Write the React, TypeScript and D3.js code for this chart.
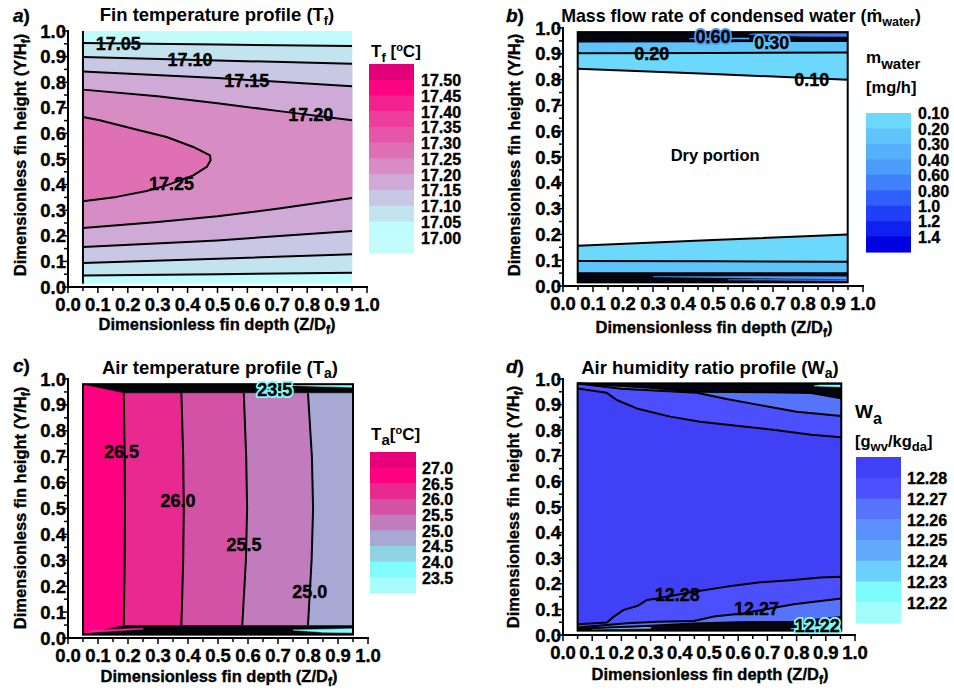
import React from "react";
import * as d3 from "d3";

type Pt = [number, number];
type Label = { text: string; at: Pt; halo?: number };

const FONT = "'Liberation Sans', Arial, Helvetica, sans-serif";
const INK = "#000";

// ---------- (a) fin temperature, Tf [°C] ----------
const finTempTicks = [17.5, 17.45, 17.4, 17.35, 17.3, 17.25, 17.2, 17.15, 17.1, 17.05, 17.0];
const finTempColors = [
  "#e2007a", "#fe0482", "#f42290", "#ec3c9c", "#e656a8", "#e070b4",
  "#d88cc4", "#d0aad6", "#c8c8e4", "#c2e4ee", "#c0fcfc", "#c4fcfc",
];
const finTempZ: Pt = [0.05, 0.95];
const finTempY: Pt = [0.013, 1.0];
const finTempBaseFloor = 17.0;
const finTempLevels = [17.05, 17.1, 17.15, 17.2];
const finTempLower: Pt[][] = [
  [[0.05, 0.045], [0.5, 0.05], [0.95, 0.056]],
  [[0.05, 0.094], [0.5, 0.11], [0.95, 0.128]],
  [[0.05, 0.156], [0.5, 0.182], [0.95, 0.219]],
  [[0.05, 0.23], [0.3, 0.254], [0.5, 0.276], [0.7, 0.306], [0.95, 0.348]],
];
const finTempUpper: Pt[][] = [
  [[0.05, 0.953], [0.5, 0.947], [0.95, 0.941]],
  [[0.05, 0.898], [0.5, 0.885], [0.95, 0.872]],
  [[0.05, 0.842], [0.5, 0.816], [0.95, 0.784]],
  [[0.05, 0.771], [0.3, 0.745], [0.5, 0.718], [0.7, 0.688], [0.95, 0.651]],
];
const finTempCoreLevel = 17.25;
const finTempCore: Pt[] = [
  [0.05, 0.664], [0.106, 0.651], [0.218, 0.618], [0.33, 0.586], [0.419, 0.547],
  [0.475, 0.514], [0.477, 0.495], [0.464, 0.469], [0.419, 0.436], [0.33, 0.397],
  [0.263, 0.375], [0.162, 0.352], [0.05, 0.335],
];
const finTempLabels: Label[] = [
  { text: "17.05", at: [0.168, 0.95] },
  { text: "17.10", at: [0.408, 0.888] },
  { text: "17.15", at: [0.598, 0.807] },
  { text: "17.20", at: [0.812, 0.673] },
  { text: "17.25", at: [0.346, 0.404] },
];

// ---------- (b) condensed water mass flow rate [mg/h] ----------
const waterTicks = [0.1, 0.2, 0.3, 0.4, 0.6, 0.8, 1.0, 1.2, 1.4];
const waterTickText = ["0.10", "0.20", "0.30", "0.40", "0.60", "0.80", "1.0", "1.2", "1.4"];
const waterColors = [
  "#6cd8fc", "#60c4fc", "#56b0fc", "#4c9cfc", "#4080fc",
  "#3060fc", "#2040f8", "#1020f0", "#0000e0",
];
const waterZ: Pt = [0.049, 0.949];
const waterY: Pt = [0.014, 0.984];
const waterLevels = [0.3, 0.2, 0.1];
const waterLower: Pt[][] = [
  [[0.049, 0.049], [0.5, 0.049], [0.949, 0.049]],
  [[0.049, 0.097], [0.5, 0.096], [0.949, 0.094]],
  [[0.049, 0.156], [0.5, 0.178], [0.949, 0.2]],
];
const waterUpper: Pt[][] = [
  [[0.049, 0.948], [0.5, 0.949], [0.949, 0.95]],
  [[0.049, 0.902], [0.5, 0.903], [0.949, 0.905]],
  [[0.049, 0.842], [0.5, 0.822], [0.949, 0.799]],
];
const waterStreaks: { floor: number; pts: Pt[] }[] = [
  { floor: 0.6, pts: [[0.62, 0.975], [0.8, 0.968], [0.949, 0.967], [0.949, 0.979], [0.64, 0.979]] },
  { floor: 0.3, pts: [[0.42, 0.958], [0.62, 0.957], [0.62, 0.961], [0.45, 0.961]] },
  { floor: 0.4, pts: [[0.3, 0.036], [0.7, 0.03], [0.949, 0.026], [0.949, 0.036], [0.6, 0.037]] },
  { floor: 0.6, pts: [[0.55, 0.024], [0.949, 0.02], [0.949, 0.023], [0.7, 0.025]] },
];
const waterLabels: Label[] = [
  { text: "0.60", at: [0.5, 0.966], halo: 0.4 },
  { text: "0.30", at: [0.696, 0.945], halo: 0.2 },
  { text: "0.20", at: [0.296, 0.9] },
  { text: "0.10", at: [0.829, 0.801] },
];

// ---------- (c) air temperature, Ta [°C] ----------
const airTempTicks = [27.0, 26.5, 26.0, 25.5, 25.0, 24.5, 24.0, 23.5];
const airTempColors = [
  "#e8007a", "#ff0080", "#e82a90", "#d452a6", "#c07cbc",
  "#a8a8d4", "#90d4e4", "#80fcfc", "#a8fcfc",
];
const airTempZ: Pt = [0.05, 0.95];
const airTempY: Pt = [0.013, 0.98];
// isolines 26.5, 26.0, 25.5, 25.0, each listed bottom to top
const airTempIsolines: Pt[][] = [
  [[0.186, 0.05], [0.189, 0.3], [0.19, 0.5], [0.189, 0.7], [0.186, 0.945]],
  [[0.378, 0.05], [0.384, 0.3], [0.386, 0.5], [0.384, 0.7], [0.378, 0.945]],
  [[0.581, 0.05], [0.593, 0.3], [0.597, 0.5], [0.594, 0.7], [0.586, 0.945]],
  [[0.8, 0.05], [0.812, 0.3], [0.817, 0.5], [0.813, 0.7], [0.8, 0.945]],
];
const airTempInletEdge: Pt[] = [[0.05, 0.015], [0.05, 0.978]];
const airTempOutletEdge: Pt[] = [[0.95, 0.05], [0.95, 0.945]];
const airTempBandFloors = [26.5, 26.0, 25.5, 25.0, 24.5];
const airTempStreaks: { floor: number; pts: Pt[] }[] = [
  { floor: 23.5, pts: [[0.7, 0.977], [0.85, 0.971], [0.95, 0.968], [0.95, 0.979], [0.7, 0.979]] },
  { floor: 23.5, pts: [[0.75, 0.031], [0.95, 0.036], [0.95, 0.02], [0.85, 0.022]] },
  { floor: 26.0, pts: [[0.06, 0.02], [0.25, 0.034], [0.25, 0.038], [0.08, 0.03]] },
];
const airTempLabels: Label[] = [
  { text: "26.5", at: [0.178, 0.722] },
  { text: "26.0", at: [0.367, 0.53] },
  { text: "25.5", at: [0.587, 0.36] },
  { text: "25.0", at: [0.806, 0.18] },
  { text: "23.5", at: [0.689, 0.96], halo: 23.5 },
];

// ---------- (d) air humidity ratio, Wa [g_wv/kg_da] ----------
const humidityTicks = [12.28, 12.27, 12.26, 12.25, 12.24, 12.23, 12.22];
const humidityColors = [
  "#4040f6", "#4c50fc", "#5674fa", "#5c90fc", "#64aafc", "#6cd0fc", "#7cfcfc", "#a2fcfc",
];
const humidityZ: Pt = [0.05, 0.953];
const humidityY: Pt = [0.017, 0.983];
const humidityLevels = [12.26, 12.27, 12.28];
const humidityLower: Pt[][] = [
  [[0.05, 0.024], [0.3, 0.036], [0.45, 0.045], [0.6, 0.05], [0.8, 0.052], [0.953, 0.07]],
  [[0.05, 0.029], [0.219, 0.046], [0.322, 0.052], [0.448, 0.055], [0.517, 0.072], [0.62, 0.085], [0.79, 0.12], [0.953, 0.143]],
  [[0.05, 0.042], [0.151, 0.049], [0.174, 0.072], [0.208, 0.098], [0.254, 0.113], [0.288, 0.137], [0.322, 0.143],
    [0.448, 0.169], [0.562, 0.189], [0.676, 0.206], [0.79, 0.215], [0.882, 0.225], [0.953, 0.228]],
];
const humidityUpper: Pt[][] = [
  [[0.05, 0.983], [0.3, 0.966], [0.458, 0.95], [0.7, 0.948], [0.85, 0.945], [0.953, 0.925]],
  [[0.05, 0.982], [0.2, 0.962], [0.458, 0.946], [0.56, 0.922], [0.675, 0.898], [0.8, 0.872], [0.953, 0.855]],
  [[0.05, 0.963], [0.15, 0.946], [0.184, 0.918], [0.253, 0.885], [0.367, 0.853], [0.47, 0.833],
    [0.618, 0.814], [0.733, 0.8], [0.85, 0.782], [0.953, 0.772]],
];
const humidityStreaks: { floor: number; pts: Pt[] }[] = [
  { floor: 12.22, pts: [[0.86, 0.973], [0.953, 0.969], [0.953, 0.977], [0.88, 0.977]] },
  { floor: 12.22, pts: [[0.78, 0.024], [0.953, 0.02], [0.953, 0.05], [0.9, 0.036]] },
  { floor: 12.23, pts: [[0.1, 0.022], [0.3, 0.026], [0.3, 0.03], [0.12, 0.026]] },
];
const humidityLabels: Label[] = [
  { text: "12.28", at: [0.391, 0.159] },
  { text: "12.27", at: [0.663, 0.104] },
  { text: "12.22", at: [0.871, 0.039], halo: 12.22 },
];

const axisTicks = d3.range(0, 21).map((i) => i / 20);
const fmt = d3.format(".1f");

function colorAt(ticks: number[], colors: string[], floor: number): string {
  const i = ticks.findIndex((t) => Math.abs(t - floor) < 1e-9);
  return i < 0 ? "#ffffff" : colors[i];
}

function ring(lower: Pt[], upper: Pt[]): Pt[] {
  return [...lower, ...upper.slice().reverse()];
}

type Scale = d3.ScaleLinear<number, number>;

function makeScales(xr: Pt, yr: Pt): [Scale, Scale] {
  return [d3.scaleLinear().domain([0, 1]).range(xr), d3.scaleLinear().domain([0, 1]).range(yr)];
}

const heavy = { stroke: INK, strokeWidth: 0.35, paintOrder: "stroke" } as const;

function Axes({ x, y }: { x: Scale; y: Scale }) {
  const y0 = y(0);
  const x0 = x(0);
  return (
    <g fontFamily={FONT} fontWeight="bold" fontSize={18.5} fill={INK}>
      <line x1={x(0) - 1} x2={x(1) + 1} y1={y0} y2={y0} stroke={INK} strokeWidth={2} />
      <line x1={x0} x2={x0} y1={y(0) + 1} y2={y(1) - 1} stroke={INK} strokeWidth={2} />
      {axisTicks.map((t, i) => {
        const major = i % 2 === 0;
        const len = major ? 6 : 4;
        return (
          <g key={i}>
            <line x1={x(t)} x2={x(t)} y1={y0} y2={y0 + len} stroke={INK} strokeWidth={1.5} />
            <line x1={x0 - len} x2={x0} y1={y(t)} y2={y(t)} stroke={INK} strokeWidth={1.5} />
            {major && (
              <text x={x(t)} y={y0 + 24} textAnchor="middle" {...heavy}>{fmt(t)}</text>
            )}
            {major && (
              <text x={x0 - 2} y={y(t) + 6.5} textAnchor="end" {...heavy}>{fmt(t)}</text>
            )}
          </g>
        );
      })}
    </g>
  );
}

function Fills({ x, y, items }: { x: Scale; y: Scale; items: { pts: Pt[]; color: string }[] }) {
  const line = d3.line<Pt>().x((d) => x(d[0])).y((d) => y(d[1]));
  return (
    <g>
      {items.map((f, i) => (
        <path key={i} d={line(f.pts) + "Z"} fill={f.color} stroke={f.color} strokeWidth={0.5} />
      ))}
    </g>
  );
}

function Isolines({ x, y, lines }: { x: Scale; y: Scale; lines: Pt[][] }) {
  const line = d3.line<Pt>().x((d) => x(d[0])).y((d) => y(d[1]));
  return (
    <g fill="none" stroke={INK} strokeWidth={2} strokeLinejoin="round">
      {lines.map((l, i) => (
        <path key={i} d={line(l) ?? ""} />
      ))}
    </g>
  );
}

function Labels(props: { x: Scale; y: Scale; labels: Label[]; ticks: number[]; colors: string[] }) {
  const { x, y, labels, ticks, colors } = props;
  return (
    <g fontFamily={FONT} fontWeight="bold" fontSize={18} textAnchor="middle">
      {labels.map((l, i) => (
        <g key={i}>
          {l.halo !== undefined && (
            <text x={x(l.at[0])} y={y(l.at[1]) + 6.5} fill="none"
              stroke={colorAt(ticks, colors, l.halo)} strokeWidth={4} strokeLinejoin="round">
              {l.text}
            </text>
          )}
          <text x={x(l.at[0])} y={y(l.at[1]) + 6.5} fill={INK} {...heavy}>{l.text}</text>
        </g>
      ))}
    </g>
  );
}

function Rect({ x, y, z, h, fill }: { x: Scale; y: Scale; z: Pt; h: Pt; fill: string }) {
  return (
    <rect x={x(z[0])} y={y(h[1])} width={x(z[1]) - x(z[0])} height={y(h[0]) - y(h[1])} fill={fill} />
  );
}

function Frame({ x, y, z, h }: { x: Scale; y: Scale; z: Pt; h: Pt }) {
  return (
    <rect x={x(z[0])} y={y(h[1])} width={x(z[1]) - x(z[0])} height={y(h[0]) - y(h[1])}
      fill="none" stroke={INK} strokeWidth={2} />
  );
}

function Legend(props: {
  x: number; top: number; width: number; bandH: number;
  colors: string[]; labels: string[]; labelX: number; onEdge: boolean;
}) {
  const { x, top, width, bandH, colors, labels, labelX, onEdge } = props;
  return (
    <g fontFamily={FONT} fontWeight="bold" fontSize={16} fill={INK}>
      {colors.map((c, i) => (
        <rect key={i} x={x} y={top + i * bandH} width={width} height={bandH + 0.6} fill={c} />
      ))}
      {labels.map((t, i) => (
        <text key={i} x={labelX} y={top + (onEdge ? i : i + 1) * bandH + 6.3} {...heavy}>{t}</text>
      ))}
    </g>
  );
}

// text with a subscript, followed by more text on the main baseline
function SubText({ base, sub, after, size = 12.5, drop = 4 }: {
  base: string; sub: string; after: string; size?: number; drop?: number;
}) {
  return (
    <>
      {base}
      <tspan dy={drop} fontSize={size}>{sub}</tspan>
      <tspan dy={-drop}>{after}</tspan>
    </>
  );
}

function PanelText(props: { letter: string; lx: number; ly: number; yTitle: Pt; xTitle: Pt }) {
  const { letter, lx, ly, yTitle, xTitle } = props;
  return (
    <g fontFamily={FONT} fontWeight="bold" fill={INK} {...heavy}>
      <text x={lx} y={ly} fontSize={19}>
        <tspan fontStyle="italic">{letter}</tspan>
        <tspan>)</tspan>
      </text>
      <text
        transform={`translate(${yTitle[0]},${yTitle[1]}) rotate(-90)`}
        textAnchor="middle"
        fontSize={16.5}
      >
        <SubText base="Dimensionless fin height (Y/H" sub="f" after=")" size={12} />
      </text>
      <text x={xTitle[0]} y={xTitle[1]} textAnchor="middle" fontSize={16.5}>
        <SubText base="Dimensionless fin depth (Z/D" sub="f" after=")" size={12} />
      </text>
    </g>
  );
}

const titleStyle = { fontFamily: FONT, fontWeight: "bold", fontSize: 18.5, fill: INK } as const;

function FinTempPanel() {
  const [x, y] = makeScales([68, 367], [287, 31]);
  const fills = [
    ...finTempLevels.map((lv, i) => ({
      pts: ring(finTempLower[i], finTempUpper[i]),
      color: colorAt(finTempTicks, finTempColors, lv),
    })),
    { pts: finTempCore, color: colorAt(finTempTicks, finTempColors, finTempCoreLevel) },
  ];
  return (
    <g>
      <Rect x={x} y={y} z={finTempZ} h={finTempY} fill={colorAt(finTempTicks, finTempColors, finTempBaseFloor)} />
      <Fills x={x} y={y} items={fills} />
      <Isolines x={x} y={y} lines={[...finTempLower, ...finTempUpper, finTempCore]} />
      <line x1={x(finTempZ[0])} x2={x(finTempZ[0])} y1={y(finTempY[0])} y2={y(finTempY[1])} stroke={INK} strokeWidth={2} />
      <Labels x={x} y={y} labels={finTempLabels} ticks={finTempTicks} colors={finTempColors} />
      <Axes x={x} y={y} />
      <PanelText letter="a" lx={13} ly={22} yTitle={[26, 155]} xTitle={[217, 330]} />
      <text x={217} y={21} textAnchor="middle" {...titleStyle}>
        <SubText base="Fin temperature profile (T" sub="f" after=")" />
      </text>
      <text x={371} y={57} {...titleStyle} fontSize={17}>
        T<tspan dy={5} fontSize={13}>f</tspan>
        <tspan dy={-5}> [</tspan>
        <tspan dy={-6} fontSize={11}>o</tspan>
        <tspan dy={6}>C]</tspan>
      </text>
      <Legend x={369} top={64} width={45} bandH={15.75} colors={finTempColors}
        labels={finTempTicks.map((t) => t.toFixed(2))} labelX={421} onEdge={false} />
    </g>
  );
}

function WaterPanel() {
  const [x, y] = makeScales([563, 863], [286, 28]);
  const fills = waterLevels.map((lv, i) => {
    const k = waterTicks.indexOf(lv) - 1;
    return { pts: ring(waterLower[i], waterUpper[i]), color: k < 0 ? "#ffffff" : waterColors[k] };
  });
  const streaks = waterStreaks.map((s) => ({ pts: s.pts, color: colorAt(waterTicks, waterColors, s.floor) }));
  return (
    <g>
      <Rect x={x} y={y} z={waterZ} h={waterY} fill="#050510" />
      <Fills x={x} y={y} items={streaks} />
      <Fills x={x} y={y} items={fills} />
      <Isolines x={x} y={y} lines={[...waterLower, ...waterUpper]} />
      <Frame x={x} y={y} z={waterZ} h={waterY} />
      <Labels x={x} y={y} labels={waterLabels} ticks={waterTicks} colors={waterColors} />
      <text x={x(0.507)} y={y(0.508) + 6} textAnchor="middle" {...titleStyle} fontSize={16.5}>
        Dry portion
      </text>
      <Axes x={x} y={y} />
      <PanelText letter="b" lx={506} ly={22} yTitle={[520, 155]} xTitle={[714, 333]} />
      <text x={741} y={22} textAnchor="middle" {...titleStyle} fontSize={17.8}>
        <SubText base={"Mass flow rate of condensed water (\u1e41"} sub="water" after=")" />
      </text>
      <text x={866} y={63} {...titleStyle} fontSize={17}>
        m<tspan dy={6} fontSize={15}>water</tspan>
      </text>
      <text x={866} y={93} {...titleStyle} fontSize={16.5}>[mg/h]</text>
      <Legend x={866} top={113} width={45} bandH={15.44} colors={waterColors}
        labels={waterTickText} labelX={918} onEdge={true} />
    </g>
  );
}

function AirTempPanel() {
  const [x, y] = makeScales([68, 368], [638, 379]);
  const bounds = [airTempInletEdge, ...airTempIsolines, airTempOutletEdge];
  const fills = airTempBandFloors.map((fl, i) => ({
    pts: ring(bounds[i], bounds[i + 1]),
    color: colorAt(airTempTicks, airTempColors, fl),
  }));
  const streaks = airTempStreaks.map((s) => ({ pts: s.pts, color: colorAt(airTempTicks, airTempColors, s.floor) }));
  return (
    <g>
      <Rect x={x} y={y} z={airTempZ} h={airTempY} fill="#050508" />
      <Fills x={x} y={y} items={fills} />
      <Fills x={x} y={y} items={streaks} />
      <Isolines x={x} y={y} lines={airTempIsolines} />
      <Frame x={x} y={y} z={airTempZ} h={airTempY} />
      <Labels x={x} y={y} labels={airTempLabels} ticks={airTempTicks} colors={airTempColors} />
      <Axes x={x} y={y} />
      <PanelText letter="c" lx={13} ly={372} yTitle={[26, 508]} xTitle={[219, 682]} />
      <text x={220} y={374} textAnchor="middle" {...titleStyle}>
        <SubText base="Air temperature profile (T" sub="a" after=")" size={14} />
      </text>
      <text x={371} y={440} {...titleStyle} fontSize={17}>
        T<tspan dy={5} fontSize={15}>a</tspan>
        <tspan dy={-5}>[</tspan>
        <tspan dy={-6} fontSize={11}>o</tspan>
        <tspan dy={6}>C]</tspan>
      </text>
      <Legend x={370} top={452} width={46} bandH={15.67} colors={airTempColors}
        labels={airTempTicks.map((t) => t.toFixed(1))} labelX={422} onEdge={false} />
    </g>
  );
}

function HumidityPanel() {
  const [x, y] = makeScales([563, 855], [635, 379]);
  const fills = humidityLevels.map((lv, i) => ({
    pts: ring(humidityLower[i], humidityUpper[i]),
    color: colorAt(humidityTicks, humidityColors, lv),
  }));
  const streaks = humidityStreaks.map((s) => ({ pts: s.pts, color: colorAt(humidityTicks, humidityColors, s.floor) }));
  return (
    <g>
      <Rect x={x} y={y} z={humidityZ} h={humidityY} fill="#050510" />
      <Fills x={x} y={y} items={fills} />
      <Fills x={x} y={y} items={streaks} />
      <Isolines x={x} y={y} lines={[...humidityLower, ...humidityUpper]} />
      <Frame x={x} y={y} z={humidityZ} h={humidityY} />
      <Labels x={x} y={y} labels={humidityLabels} ticks={humidityTicks} colors={humidityColors} />
      <Axes x={x} y={y} />
      <PanelText letter="d" lx={506} ly={373} yTitle={[519, 507]} xTitle={[710, 680]} />
      <text x={710} y={374} textAnchor="middle" {...titleStyle}>
        <SubText base="Air humidity ratio profile (W" sub="a" after=")" size={14} />
      </text>
      <text x={855} y={418} {...titleStyle} fontSize={19}>
        W<tspan dy={6} fontSize={16}>a</tspan>
      </text>
      <text x={855} y={447} {...titleStyle} fontSize={16.5}>
        [g<tspan dy={4} fontSize={13}>wv</tspan>
        <tspan dy={-4}>/kg</tspan>
        <tspan dy={4} fontSize={13}>da</tspan>
        <tspan dy={-4}>]</tspan>
      </text>
      <Legend x={856} top={457} width={45} bandH={20.75} colors={humidityColors}
        labels={humidityTicks.map((t) => t.toFixed(2))} labelX={907} onEdge={false} />
    </g>
  );
}

export default function App() {
  return (
    <svg
      width={954}
      height={690}
      viewBox="0 0 954 690"
      style={{ position: "absolute", left: 0, top: 0, background: "#fff" }}
    >
      <rect width={954} height={690} fill="#fff" />
      <FinTempPanel />
      <WaterPanel />
      <AirTempPanel />
      <HumidityPanel />
    </svg>
  );
}
